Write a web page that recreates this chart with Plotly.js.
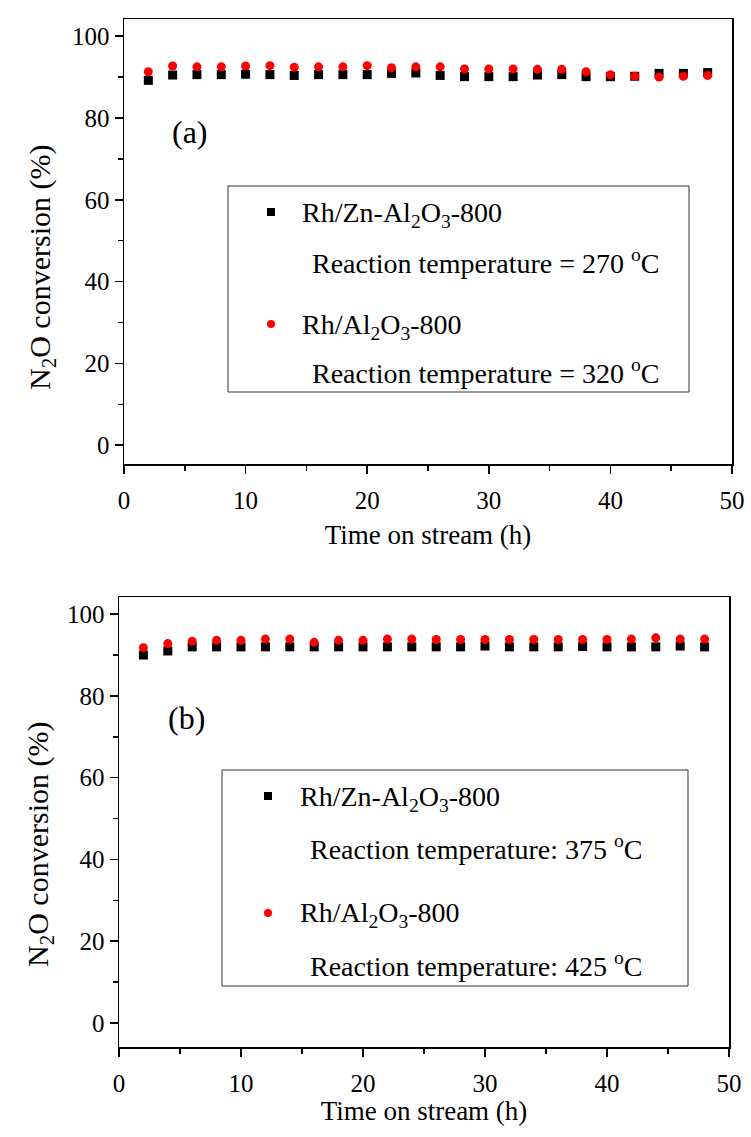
<!DOCTYPE html>
<html><head><meta charset="utf-8">
<script src="https://cdn.plot.ly/plotly-3.0.1.min.js"></script>
<style>
html,body{margin:0;padding:0;background:#fff}
#warm{position:absolute;left:-9999px;top:0;font-family:"Liberation Serif";font-size:25px}
</style>
</head><body>
<div id="warm">Time on stream (h) 0123456789 Rh/Zn-Al O -800 Reaction temperature = : °C (%)</div>
<div id="chart" style="width:751px;height:1137px"></div>
<script>
// ---- data ----
const timeA = [2,4,6,8,10,12,14,16,18,20,22,24,26,28,30,32,34,36,38,40,42,44,46,48];
const znA   = [89.2,90.5,90.6,90.6,90.7,90.6,90.4,90.6,90.6,90.6,90.9,91.0,90.4,90.1,90.1,90.1,90.5,90.6,90.1,90.1,90.2,90.9,90.9,91.1];
const alA   = [91.3,92.7,92.5,92.5,92.7,92.8,92.4,92.5,92.5,92.8,92.3,92.5,92.5,92.0,92.0,92.0,91.9,91.9,91.3,90.6,90.2,90.0,90.2,90.4];
const timeB = [2,4,6,8,10,12,14,16,18,20,22,24,26,28,30,32,34,36,38,40,42,44,46,48];
const znB   = [90.0,91.0,92.0,92.0,92.0,92.0,92.0,92.0,92.0,92.0,92.0,92.0,92.0,92.0,92.2,92.0,92.0,92.0,92.1,92.0,92.0,92.0,92.2,92.0];
const alB   = [91.8,92.8,93.4,93.6,93.6,93.9,93.9,93.1,93.6,93.6,93.9,93.9,93.8,93.8,93.8,93.8,93.8,93.8,93.8,93.8,93.9,94.2,93.9,93.9];
const seriesNames = ["Rh/Zn-Al<sub>2</sub>O<sub>3</sub>-800", "Rh/Al<sub>2</sub>O<sub>3</sub>-800"];
const tempsA = ["Reaction temperature = 270 <sup>o</sup>C", "Reaction temperature = 320 <sup>o</sup>C"];
const tempsB = ["Reaction temperature: 375 <sup>o</sup>C", "Reaction temperature: 425 <sup>o</sup>C"];
const panelLabels = ["(a)", "(b)"];
const xTitle = "Time on stream (h)";
const yTitle = "N<sub>2</sub>O conversion (%)";
const xTicks = [0,10,20,30,40,50];
const xMinor = [5,15,25,35,45];
const yTicks = [0,20,40,60,80,100];
const yMinor = [10,30,50,70,90];

// force the serif font to be resolved before plotting
void document.getElementById('warm').offsetWidth;

// ---- layout helpers (pixel -> paper) ----
const W = 751, H = 1137;
const px = x => x / W;
const py = y => 1 - y / H;
const FONT = "Liberation Serif";

function sq(){ return {symbol:"square", size:9, color:"#000"}; }
function ci(){ return {symbol:"circle", size:9, color:"#ff0000"}; }

const traces = [
  {x:timeA, y:znA, mode:"markers", marker:sq(), xaxis:"x", yaxis:"y", showlegend:false},
  {x:timeA, y:alA, mode:"markers", marker:ci(), xaxis:"x", yaxis:"y", showlegend:false},
  {x:timeB, y:znB, mode:"markers", marker:sq(), xaxis:"x2", yaxis:"y2", showlegend:false},
  {x:timeB, y:alB, mode:"markers", marker:ci(), xaxis:"x2", yaxis:"y2", showlegend:false}
];

function xax(domain, anchor, standoff){
  return {domain:domain, anchor:anchor, range:[0,50], tickmode:"array", tickvals:xTicks, ticks:"outside", ticklen:8, tickwidth:1.5, tickcolor:"#000",
    ticklabelstandoff:5,
    minor:{tickvals:xMinor, ticks:"outside", ticklen:5, tickwidth:1.5, tickcolor:"#000"},
    showline:true, linewidth:1.5, linecolor:"#000", mirror:true, showgrid:false, zeroline:false, automargin:false,
    tickfont:{family:FONT, size:25, color:"#000"},
    title:{text:xTitle, font:{family:FONT, size:27, color:"#000"}, standoff:standoff}};
}
function yax(domain, anchor, lo){
  return {domain:domain, anchor:anchor, range:[lo,104.2], tickmode:"array", tickvals:yTicks, ticks:"outside", ticklen:8, tickwidth:1.5, tickcolor:"#000",
    minor:{tickvals:yMinor, ticks:"outside", ticklen:5, tickwidth:1.5, tickcolor:"#000"},
    showline:true, linewidth:1.5, linecolor:"#000", mirror:true, showgrid:false, zeroline:false, automargin:false,
    tickfont:{family:FONT, size:25, color:"#000"},
    title:{text:""}};
}

const shapes = [], annotations = [];
function legendBlock(box, mk, txt, tmp, label, ytitle){
  shapes.push({type:"rect", xref:"paper", yref:"paper", x0:px(box[0]), x1:px(box[1]), y0:py(box[3]), y1:py(box[2]), line:{color:"#333", width:1}});
  shapes.push({type:"rect", xref:"paper", yref:"paper", x0:px(mk[0]-4), x1:px(mk[0]+4), y0:py(mk[1]+4), y1:py(mk[1]-4), fillcolor:"#000", line:{width:0}});
  shapes.push({type:"circle", xref:"paper", yref:"paper", x0:px(mk[0]-4), x1:px(mk[0]+4), y0:py(mk[2]+4), y1:py(mk[2]-4), fillcolor:"#ff0000", line:{width:0}});
  const f = () => ({family:FONT, size:28, color:"#000"});
  annotations.push({xref:"paper", yref:"paper", x:px(txt[0]), y:py(txt[2]), text:seriesNames[0], showarrow:false, xanchor:"left", yanchor:"middle", font:f()});
  annotations.push({xref:"paper", yref:"paper", x:px(txt[1]), y:py(txt[3]), text:tmp[0], showarrow:false, xanchor:"left", yanchor:"middle", font:f()});
  annotations.push({xref:"paper", yref:"paper", x:px(txt[0]), y:py(txt[4]), text:seriesNames[1], showarrow:false, xanchor:"left", yanchor:"middle", font:f()});
  annotations.push({xref:"paper", yref:"paper", x:px(txt[1]), y:py(txt[5]), text:tmp[1], showarrow:false, xanchor:"left", yanchor:"middle", font:f()});
  annotations.push({xref:"paper", yref:"paper", x:px(label[0]), y:py(label[1]), text:label[2], showarrow:false, xanchor:"center", yanchor:"middle", font:{family:FONT, size:32, color:"#000"}});
  annotations.push({xref:"paper", yref:"paper", x:px(ytitle[0]), y:py(ytitle[1]), text:yTitle, textangle:-90, showarrow:false, xanchor:"center", yanchor:"middle", font:{family:FONT, size:30, color:"#000"}});
}
legendBlock([228,689,186,392], [271,212,324], [300,310,214,261,326,372], tempsA, [190,132,panelLabels[0]], [42,268]);
legendBlock([222,688,770,986], [268,796,913], [298,308,798,847,914,964], tempsB, [186,718,panelLabels[1]], [40,845]);

const layout = {
  width:W, height:H, margin:{l:0,r:0,t:0,b:0,pad:0}, paper_bgcolor:"#fff", plot_bgcolor:"#fff", showlegend:false,
  font:{family:FONT, color:"#000"},
  xaxis: xax([px(124), px(732)], "y", 12),
  yaxis: yax([py(464), py(19)], "x", -4.6),
  xaxis2: xax([px(119), px(729)], "y2", 1),
  yaxis2: yax([py(1047), py(597)], "x2", -5.9),
  shapes:shapes, annotations:annotations
};
const gd = document.getElementById("chart");
Plotly.newPlot(gd, traces, layout, {displayModeBar:false, staticPlot:true}).catch(function(){});
// redraw once fonts are settled so every text uses the serif face
if (document.fonts && document.fonts.ready) {
  document.fonts.ready.then(function(){ Plotly.redraw(gd); }).catch(function(){});
}
setTimeout(function(){ Plotly.redraw(gd); }, 300);
</script>
</body></html>
